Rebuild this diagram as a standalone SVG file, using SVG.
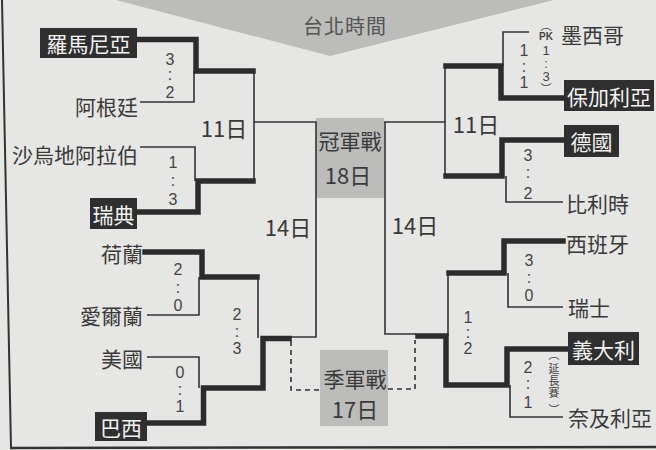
<svg xmlns="http://www.w3.org/2000/svg" width="656" height="450" viewBox="0 0 656 450">
<style>
.thin{stroke:#333;stroke-width:1.6;fill:none}
.thick{stroke:#2c2c2c;stroke-width:5.5;fill:none;stroke-linejoin:miter;stroke-linecap:square}
.dash{stroke:#333;stroke-width:1.6;fill:none;stroke-dasharray:5 4}
.name{font-family:"Noto Sans CJK TC","Noto Sans CJK SC",sans-serif;font-size:21px;fill:#3a3a3a;dominant-baseline:central}
.end{text-anchor:end}
.box{fill:#2f2f2f}
.boxtxt{font-family:"Noto Sans CJK TC",sans-serif;font-size:21px;fill:#f2f2f2;text-anchor:middle;dominant-baseline:central}
.score{font-family:"Liberation Sans",Arial,sans-serif;font-size:16px;fill:#444;text-anchor:middle;dominant-baseline:central}
.sm{font-size:13px}
.small{font-family:"Noto Sans CJK TC",sans-serif;font-size:11px;fill:#444;text-anchor:middle;dominant-baseline:central}
.pk{font-family:"Liberation Sans",Arial,sans-serif;font-size:10px;font-weight:bold}
.date{font-family:"Noto Sans CJK TC",sans-serif;font-size:22px;fill:#3a3a3a;text-anchor:middle;dominant-baseline:central}
.gray{fill:#bcbcba}
</style>
<rect x="0" y="0" width="656" height="450" fill="#e6e6e4"/>

<g id="banner">
<polygon class="gray" points="116,0 554,0 330,56"/>
<text x="345" y="25" class="date" style="font-size:20px;fill:#555;letter-spacing:1px">台北時間</text>
</g>

<g id="frame">
<line x1="2" y1="0" x2="11" y2="448" stroke="#333" stroke-width="2"/>
<line x1="10" y1="448" x2="656" y2="447" stroke="#333" stroke-width="2.5"/>
</g>

<g id="final">
<rect class="gray" x="316" y="118" width="68" height="80"/>
<text x="350" y="140" class="date" style="font-size:21px">冠軍戰</text>
<text x="348" y="174" class="date">18日</text>
</g>

<g id="third-place">
<rect class="gray" x="320" y="350" width="68" height="76"/>
<text x="355" y="378" class="date" style="font-size:21px">季軍戰</text>
<text x="355" y="408" class="date">17日</text>
</g>

<g id="connectors">
<path class="thin" d="M140,102 H194 V71"/>
<path class="thin" d="M140,147 H195 V181"/>
<path class="thin" d="M254,71 V181"/>
<path class="thin" d="M254,122 H316 V337 H291"/>
<path class="thick" d="M139,39.5 H196 V71 H253"/>
<path class="thick" d="M139,212 H198 V181 H253"/>
<path class="thin" d="M147,315 H199 V277"/>
<path class="thin" d="M147,357 H199 V388"/>
<path class="thin" d="M258,277 V338"/>
<path class="thick" d="M145,252 H202 V277 H257"/>
<path class="thick" d="M149,423 H203.5 V388 H263 V338.5 H289"/>
<path class="dash" d="M291,341 V390 H320"/>
<path class="thin" d="M529,32 H503 V66"/>
<path class="thin" d="M563,202 H506 V176"/>
<path class="thin" d="M445,66 V176"/>
<path class="thin" d="M384,122 H445"/>
<path class="thin" d="M385,122 V334 H416"/>
<path class="thick" d="M563,98 H501 V66 H446"/>
<path class="thick" d="M563,140 H502 V176 H446"/>
<path class="thin" d="M563,307 H508 V273"/>
<path class="thin" d="M563,417 H510 V385"/>
<path class="thin" d="M448,273 V336"/>
<path class="thick" d="M563,241 H504 V273 H449"/>
<path class="thick" d="M566,349 H507 V385 H446 V336 H418"/>
<path class="dash" d="M388,389 H415 V340"/>
</g>

<g id="team-romania"><rect class="box" x="40" y="28" width="97" height="30"/><text x="88.5" y="43" class="boxtxt">羅馬尼亞</text></g>
<g id="team-argentina"><text x="138" y="106" class="name end">阿根廷</text></g>
<g id="team-saudi"><text x="138" y="154" class="name end">沙烏地阿拉伯</text></g>
<g id="team-sweden"><rect class="box" x="90" y="198" width="47" height="31"/><text x="113.5" y="213.5" class="boxtxt">瑞典</text></g>
<g id="team-netherlands"><text x="143" y="253" class="name end">荷蘭</text></g>
<g id="team-ireland"><text x="143" y="315" class="name end">愛爾蘭</text></g>
<g id="team-usa"><text x="143" y="358" class="name end">美國</text></g>
<g id="team-brazil"><rect class="box" x="95" y="412" width="52" height="29"/><text x="121" y="426.5" class="boxtxt">巴西</text></g>

<g id="team-mexico"><text x="561" y="34" class="name">墨西哥</text></g>
<g id="team-bulgaria"><rect class="box" x="564" y="80" width="90" height="31"/><text x="609" y="95.5" class="boxtxt">保加利亞</text></g>
<g id="team-germany"><rect class="box" x="564" y="125" width="55" height="32"/><text x="591.5" y="141" class="boxtxt">德國</text></g>
<g id="team-belgium"><text x="566" y="203" class="name">比利時</text></g>
<g id="team-spain"><text x="566" y="243" class="name">西班牙</text></g>
<g id="team-switzerland"><text x="568" y="307" class="name">瑞士</text></g>
<g id="team-italy"><rect class="box" x="568" y="332" width="71" height="33"/><text x="603.5" y="348.5" class="boxtxt">義大利</text></g>
<g id="team-nigeria"><text x="568" y="417" class="name">奈及利亞</text></g>

<g id="score-rom-arg"><text class="score"><tspan x="170" y="59">3</tspan><tspan x="170" y="74">:</tspan><tspan x="170" y="92">2</tspan></text></g>
<g id="score-sau-swe"><text class="score"><tspan x="173" y="162">1</tspan><tspan x="173" y="180">:</tspan><tspan x="173" y="199">3</tspan></text></g>
<g id="score-ned-irl"><text class="score"><tspan x="178" y="269">2</tspan><tspan x="178" y="287">:</tspan><tspan x="178" y="305">0</tspan></text></g>
<g id="score-usa-bra"><text class="score"><tspan x="180" y="372">0</tspan><tspan x="180" y="389">:</tspan><tspan x="180" y="406">1</tspan></text></g>
<g id="score-ned-bra"><text class="score"><tspan x="237" y="314">2</tspan><tspan x="237" y="331">:</tspan><tspan x="237" y="348">3</tspan></text></g>

<g id="score-mex-bul">
<text class="score"><tspan x="524" y="50">1</tspan><tspan x="524" y="66">:</tspan><tspan x="524" y="82">1</tspan></text>
<text class="small"><tspan x="546" y="25">︵</tspan><tspan x="546" y="36" class="pk">PK</tspan><tspan x="546" y="50" style="font-family:'Liberation Sans',Arial,sans-serif;font-size:13px">1</tspan><tspan x="546" y="63" style="font-family:'Liberation Sans',Arial,sans-serif;font-size:13px">:</tspan><tspan x="546" y="76" style="font-family:'Liberation Sans',Arial,sans-serif;font-size:13px">3</tspan><tspan x="546" y="88">︶</tspan></text>
</g>
<g id="score-ger-bel"><text class="score"><tspan x="528" y="155">3</tspan><tspan x="528" y="172">:</tspan><tspan x="528" y="193">2</tspan></text></g>
<g id="score-esp-sui"><text class="score"><tspan x="529" y="260">3</tspan><tspan x="529" y="277">:</tspan><tspan x="529" y="295">0</tspan></text></g>
<g id="score-esp-ita"><text class="score"><tspan x="468" y="317">1</tspan><tspan x="468" y="332">:</tspan><tspan x="468" y="348">2</tspan></text></g>
<g id="score-ita-nga">
<text class="score"><tspan x="528" y="367">2</tspan><tspan x="528" y="383">:</tspan><tspan x="528" y="402">1</tspan></text>
<text class="small"><tspan x="554" y="354">︵</tspan><tspan x="554" y="368">延</tspan><tspan x="554" y="380">長</tspan><tspan x="554" y="392">賽</tspan><tspan x="554" y="409">︶</tspan></text>
</g>

<g id="date-qf-left"><text x="224" y="127" class="date">11日</text></g>
<g id="date-sf-left"><text x="288" y="226" class="date">14日</text></g>
<g id="date-qf-right"><text x="476" y="123" class="date">11日</text></g>
<g id="date-sf-right"><text x="415" y="224" class="date">14日</text></g>
</svg>
